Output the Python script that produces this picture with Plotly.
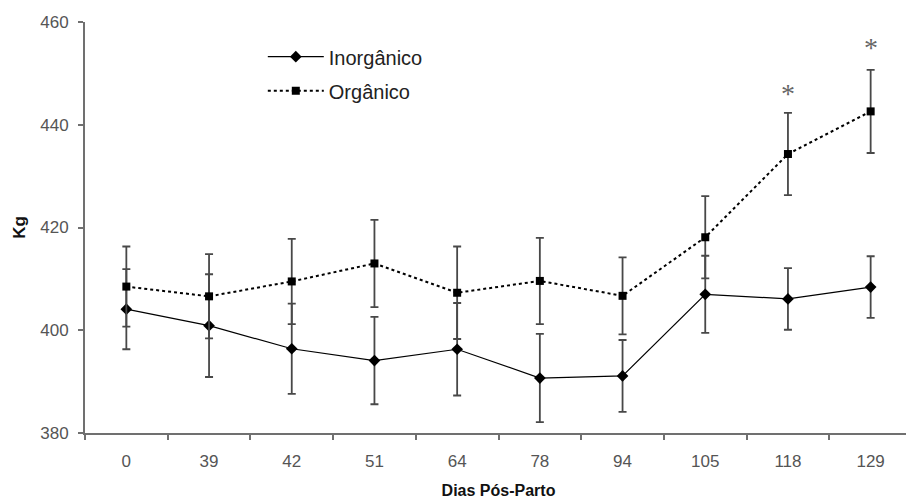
import plotly.graph_objects as go

dias = ["0", "39", "42", "51", "64", "78", "94", "105", "118", "129"]
inorg = [404.1, 400.9, 396.4, 394.1, 396.3, 390.7, 391.1, 407.0, 406.1, 408.4]
inorg_err = [7.8, 10.0, 8.8, 8.5, 9.0, 8.6, 7.0, 7.5, 6.0, 6.0]
org = [408.5, 406.6, 409.5, 413.0, 407.3, 409.6, 406.7, 418.1, 434.3, 442.6]
org_err = [7.8, 8.2, 8.3, 8.5, 9.0, 8.4, 7.5, 8.0, 8.0, 8.1]
sig_days = ["118", "129"]
sig_y = [446.8, 455.9]

err_color = "#484848"

fig = go.Figure()
fig.add_trace(go.Scatter(
    x=dias, y=inorg, name="Inorgânico", mode="lines+markers",
    legendgroup="a",
    line=dict(color="black", width=1.2),
    marker=dict(symbol="diamond", size=9, color="black"),
    error_y=dict(type="data", array=inorg_err, visible=True,
                 color=err_color, thickness=1.8, width=4),
))
fig.add_trace(go.Scatter(
    x=dias, y=org, name="Orgânico", mode="lines+markers",
    legendgroup="b",
    line=dict(color="black", width=2, dash="dot"),
    marker=dict(symbol="square", size=8, color="black"),
    error_y=dict(type="data", array=org_err, visible=True,
                 color=err_color, thickness=1.8, width=4),
))

# category axis: annotations need the category index
for d, yv in zip(sig_days, sig_y):
    fig.add_annotation(x=dias.index(d), y=yv, xref="x", yref="y", text="*",
                       showarrow=False, yshift=-4,
                       font=dict(family="Liberation Serif", size=28, color="#666666"))

# page body has an 8px margin, so the figure is sized to the remaining area
fig.update_layout(
    width=906, height=491,
    margin=dict(l=77, r=2, t=14, b=66),
    plot_bgcolor="white", paper_bgcolor="white",
    font=dict(family="Liberation Sans", size=17, color="#555555"),
    showlegend=True,
    legend=dict(x=0.215, y=0.963, xanchor="left", yanchor="top",
                bgcolor="rgba(0,0,0,0)",
                font=dict(family="Liberation Sans", size=20, color="#222222"),
                itemwidth=56, tracegroupgap=5, traceorder="grouped"),
    xaxis=dict(
        type="category", categoryorder="array", categoryarray=dias,
        range=[-0.5, 9.5], automargin=False,
        showline=True, linecolor="#707070", linewidth=2,
        ticks="outside", tickson="boundaries", ticklen=5, tickwidth=2,
        tickcolor="#707070", showgrid=False, zeroline=False,
        ticklabelstandoff=12,
        title=dict(text="<b>Dias Pós-Parto</b>", standoff=22,
                   font=dict(size=16, color="#111111")),
    ),
    yaxis=dict(
        range=[380, 460], dtick=20, automargin=False,
        showline=True, linecolor="#707070", linewidth=2,
        ticks="outside", ticklen=5, tickwidth=2, tickcolor="#707070",
        showgrid=False, zeroline=False, ticklabelstandoff=6,
        title=dict(text="<b>Kg</b>", standoff=10,
                   font=dict(size=17, color="#111111")),
    ),
)

fig.write_html("out.html")
